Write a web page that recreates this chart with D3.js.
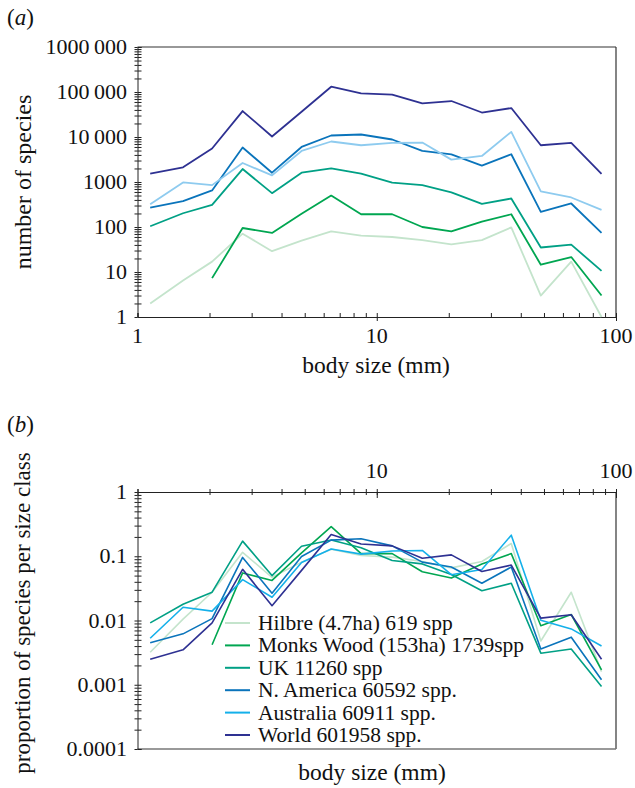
<!DOCTYPE html>
<html>
<head>
<meta charset="utf-8">
<script src="https://d3js.org/d3.v7.min.js"></script>
<style>
  body { margin: 0; background: #fff; }
  .axis path, .axis line { stroke: #222; }
</style>
</head>
<body>
<div id="chart"></div>
<script>
// body size classes (mm), log-spaced bin centres
var sizeClass = [1.13, 1.55, 2.05, 2.75, 3.65, 4.85, 6.45, 8.6, 11.6, 15.5, 20.5, 27.5, 36.5, 48.5, 65, 87];

// (a) number of species per size class
var hilbreCount = [2, 6.5, 17, 71, 29, 50, 80, 64, 60, 51, 41, 51, 98, 3, 17, 1];
var monksCount  = [null, null, 7.3, 95, 74, 196, 500, 192, 192, 100, 80, 132, 192, 14.5, 21.5, 3];
var ukCount     = [104, 202, 311, 1940, 565, 1610, 2010, 1530, 965, 853, 586, 328, 430, 35, 40.5, 10.6];
var naCount     = [271, 375, 649, 5830, 1610, 6010, 10800, 11360, 8800, 4900, 4130, 2310, 4130, 217, 333, 74];
var ausCount    = [321, 980, 853, 2640, 1400, 4900, 7940, 6560, 7380, 7520, 3140, 3790, 13000, 617, 453, 241];
var worldCount  = [1530, 2120, 5540, 37700, 10250, 36300, 131000, 93500, 87000, 56000, 63000, 35000, 44000, 6560, 7380, 1510];

// (b) proportion of species per size class
var hilbreProp = [0.0032, 0.0105, 0.0275, 0.115, 0.047, 0.081, 0.129, 0.103, 0.097, 0.083, 0.066, 0.083, 0.158, 0.0048, 0.0275, 0.0016];
var monksProp  = [null, null, 0.0042, 0.055, 0.042, 0.113, 0.289, 0.110, 0.110, 0.0575, 0.046, 0.076, 0.110, 0.0083, 0.0124, 0.0017];
var ukProp     = [0.0092, 0.0179, 0.0276, 0.172, 0.050, 0.143, 0.179, 0.136, 0.086, 0.076, 0.052, 0.029, 0.038, 0.0031, 0.0036, 0.00094];
var naProp     = [0.0045, 0.0062, 0.0107, 0.096, 0.0266, 0.099, 0.178, 0.187, 0.145, 0.081, 0.068, 0.038, 0.068, 0.0036, 0.0055, 0.0012];
var ausProp    = [0.0053, 0.0161, 0.014, 0.0433, 0.023, 0.080, 0.130, 0.108, 0.121, 0.123, 0.0516, 0.0622, 0.213, 0.0101, 0.0074, 0.0040];
var worldProp  = [0.0025, 0.0035, 0.0092, 0.0626, 0.017, 0.0603, 0.218, 0.155, 0.145, 0.093, 0.105, 0.058, 0.073, 0.0109, 0.0123, 0.0025];

var seriesNames = ["Hilbre (4.7ha) 619 spp", "Monks Wood (153ha) 1739spp", "UK 11260 spp",
                   "N. America 60592 spp.", "Australia 60911 spp.", "World 601958 spp."];
var countsA = [hilbreCount, monksCount, ukCount, naCount, ausCount, worldCount];
var propsB = [hilbreProp, monksProp, ukProp, naProp, ausProp, worldProp];

var colorsA = ["#c4e4cc", "#00a651", "#00a085", "#0a74bb", "#8ecbef", "#2e3192"];
var colorsB = ["#c4e4cc", "#00a651", "#00a085", "#0a74bb", "#14b0ea", "#2e3192"];

var yLabelsA = [1, 10, 100, 1000, 10000, 100000, 1000000];
var yLabelsB = ["0.0001", "0.001", "0.01", "0.1", "1"];
var xLabels = [1, 10, 100];

var serif = "'Liberation Serif', 'Times New Roman', serif";

var svg = d3.select("#chart").append("svg")
    .attr("width", 635)
    .attr("height", 788);

var left = 137.5, right = 616;
var x = d3.scaleLog().domain([1, 100]).range([left, right]);
var xMinor = d3.range(0, 2).flatMap(function (e) {
    return d3.range(1, 10).map(function (k) { return k * Math.pow(10, e); });
}).concat([100]);

function minorTicks(lo, hi) {
    var out = [];
    for (var e = lo; e < hi; e++) {
        for (var k = 1; k < 10; k++) out.push(k * Math.pow(10, e));
    }
    out.push(Math.pow(10, hi));
    return out;
}

function fmtCount(d) {
    var s = String(d);
    if (d >= 10000) s = s.slice(0, -3) + "\u2009" + s.slice(-3);
    return s;
}

function label(size) {
    return function (sel) {
        sel.style("font-family", serif).style("font-size", size + "px").attr("fill", "#111");
    };
}

// ---------------- panel (a) ----------------
var yA = d3.scaleLog().domain([1, 1e6]).range([317, 47]);

svg.append("text").attr("x", 7).attr("y", 25).call(label(23))
    .html('(<tspan font-style="italic">a</tspan>)');

// frame top + right
svg.append("line").attr("x1", left).attr("x2", right).attr("y1", yA(1e6)).attr("y2", yA(1e6))
    .attr("stroke", "#333").attr("stroke-width", 1.2);
svg.append("line").attr("x1", right).attr("x2", right).attr("y1", yA(1e6)).attr("y2", yA(1))
    .attr("stroke", "#333").attr("stroke-width", 1.2);

// y axis (ticks crossing the line)
svg.append("g").attr("class", "axis")
    .attr("transform", "translate(" + left + ",0)")
    .call(d3.axisRight(yA).tickValues(minorTicks(0, 6)).tickSize(4).tickFormat(""));
svg.append("g").attr("class", "axis")
    .attr("transform", "translate(" + left + ",0)")
    .call(d3.axisLeft(yA).tickValues(minorTicks(0, 6)).tickSize(3).tickFormat(""))
    .select(".domain").remove();

svg.append("g").selectAll("text")
    .data(yLabelsA)
    .enter().append("text")
    .attr("x", 127)
    .attr("y", function (d) { return yA(d) + 7; })
    .attr("text-anchor", "end")
    .call(label(22))
    .text(fmtCount);

// x axis (ticks inward, decades crossing)
svg.append("g").attr("class", "axis")
    .attr("transform", "translate(0," + yA(1) + ")")
    .call(d3.axisTop(x).tickValues(xMinor).tickSize(4).tickFormat(""));
svg.append("g").attr("class", "axis")
    .attr("transform", "translate(0," + yA(1) + ")")
    .call(d3.axisBottom(x).tickValues([10, 100]).tickSize(4).tickFormat(""))
    .select(".domain").remove();

svg.append("g").selectAll("text")
    .data(xLabels)
    .enter().append("text")
    .attr("x", function (d) { return x(d); })
    .attr("y", 343)
    .attr("text-anchor", "middle")
    .call(label(22))
    .text(function (d) { return d; });

svg.append("text")
    .attr("x", 376).attr("y", 373)
    .attr("text-anchor", "middle")
    .call(label(23.5))
    .text("body size (mm)");

svg.append("text")
    .attr("transform", "translate(31,182) rotate(-90)")
    .attr("text-anchor", "middle")
    .call(label(24))
    .text("number of species");

var lineA = d3.line()
    .defined(function (d) { return d[1] != null; })
    .x(function (d) { return x(d[0]); })
    .y(function (d) { return yA(d[1]); });

svg.append("g").selectAll("path")
    .data(countsA)
    .enter().append("path")
    .attr("fill", "none")
    .attr("stroke", function (d, i) { return colorsA[i]; })
    .attr("stroke-width", 1.8)
    .attr("stroke-linejoin", "round")
    .attr("d", function (d) { return lineA(d3.zip(sizeClass, d)); });

// ---------------- panel (b) ----------------
var yB = d3.scaleLog().domain([1e-4, 1]).range([749, 492]);

svg.append("text").attr("x", 7).attr("y", 432).call(label(23))
    .html('(<tspan font-style="italic">b</tspan>)');

// frame right + bottom
svg.append("line").attr("x1", right).attr("x2", right).attr("y1", yB(1)).attr("y2", yB(1e-4))
    .attr("stroke", "#333").attr("stroke-width", 1.2);
svg.append("line").attr("x1", left).attr("x2", right).attr("y1", yB(1e-4)).attr("y2", yB(1e-4))
    .attr("stroke", "#777").attr("stroke-width", 1.6);

svg.append("g").attr("class", "axis")
    .attr("transform", "translate(" + left + ",0)")
    .call(d3.axisRight(yB).tickValues(minorTicks(-4, 0)).tickSize(4).tickFormat(""));
svg.append("g").attr("class", "axis")
    .attr("transform", "translate(" + left + ",0)")
    .call(d3.axisLeft(yB).tickValues(minorTicks(-4, 0)).tickSize(3).tickFormat(""))
    .select(".domain").remove();

svg.append("g").selectAll("text")
    .data(yLabelsB)
    .enter().append("text")
    .attr("x", 127)
    .attr("y", function (d) { return yB(+d) + 7; })
    .attr("text-anchor", "end")
    .call(label(22))
    .text(function (d) { return d; });

// top x axis
svg.append("g").attr("class", "axis")
    .attr("transform", "translate(0," + yB(1) + ")")
    .call(d3.axisTop(x).tickValues(xMinor).tickSize(3).tickFormat(""));
svg.append("g").attr("class", "axis")
    .attr("transform", "translate(0," + yB(1) + ")")
    .call(d3.axisBottom(x).tickValues(xMinor).tickSize(3).tickFormat(""))
    .select(".domain").remove();
svg.append("g").attr("class", "axis")
    .attr("transform", "translate(0," + yB(1) + ")")
    .call(d3.axisBottom(x).tickValues([10, 100]).tickSize(6).tickFormat(""))
    .select(".domain").remove();

svg.append("g").selectAll("text")
    .data([10, 100])
    .enter().append("text")
    .attr("x", function (d) { return x(d); })
    .attr("y", 478)
    .attr("text-anchor", "middle")
    .call(label(22))
    .text(function (d) { return d; });

svg.append("text")
    .attr("x", 372).attr("y", 780)
    .attr("text-anchor", "middle")
    .call(label(23.5))
    .text("body size (mm)");

svg.append("text")
    .attr("transform", "translate(30,613) rotate(-90)")
    .attr("text-anchor", "middle")
    .call(label(23))
    .text("proportion of species per size class");

var lineB = d3.line()
    .defined(function (d) { return d[1] != null; })
    .x(function (d) { return x(d[0]); })
    .y(function (d) { return yB(d[1]); });

svg.append("g").selectAll("path")
    .data(propsB)
    .enter().append("path")
    .attr("fill", "none")
    .attr("stroke", function (d, i) { return colorsB[i]; })
    .attr("stroke-width", 1.6)
    .attr("stroke-linejoin", "round")
    .attr("d", function (d) { return lineB(d3.zip(sizeClass, d)); });

// legend
var legend = svg.selectAll(".legend")
    .data(seriesNames)
    .enter().append("g")
    .attr("class", "legend")
    .attr("transform", function (d, i) { return "translate(0," + (623 + i * 22.4) + ")"; });

legend.append("line")
    .attr("x1", 225).attr("x2", 250)
    .attr("y1", 0).attr("y2", 0)
    .attr("stroke", function (d, i) { return colorsB[i]; })
    .attr("stroke-width", 2);

legend.append("text")
    .attr("x", 258)
    .attr("y", 7)
    .call(label(21.5))
    .text(function (d) { return d; });
</script>
</body>
</html>
